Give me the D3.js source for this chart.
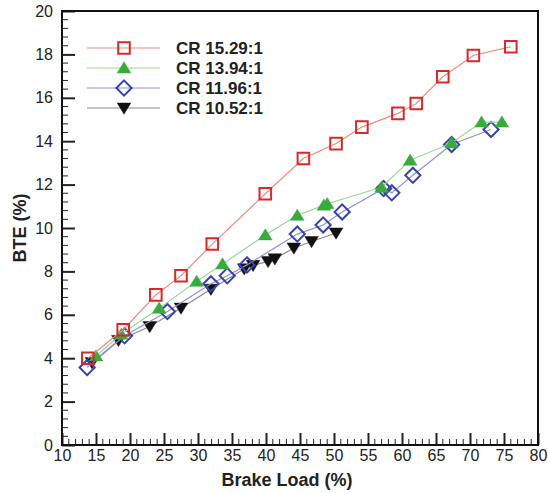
<!DOCTYPE html>
<html>
<head>
<meta charset="utf-8">
<script src="https://cdn.jsdelivr.net/npm/d3@7"></script>
<style>
  html, body { margin: 0; padding: 0; background: #fff; }
  svg text { font-family: "Liberation Sans", Arial, Helvetica, sans-serif; fill: #222; }
  .tick-label { font-size: 16px; }
  .title { font-size: 18px; font-weight: bold; }
  .legend-text { font-size: 17px; font-weight: bold; }
</style>
</head>
<body>
<svg id="chart" width="548" height="493"></svg>
<script>
// Brake load (%) and BTE (%) for each compression ratio.
const seriesNames = [ 'CR 15.29:1', 'CR 13.94:1', 'CR 11.96:1', 'CR 10.52:1' ];

const cr1529Load = [ 13.8, 19.0, 23.8, 27.5, 32.1, 39.9, 45.5, 50.3, 54.1, 59.4, 62.1, 66.0, 70.5, 76.0 ];
const cr1529Bte  = [ 4.00, 5.31, 6.92, 7.80, 9.26, 11.58, 13.20, 13.89, 14.65, 15.28, 15.74, 16.97, 17.95, 18.35 ];

const cr1394Load = [ 15.0, 18.7, 24.3, 29.8, 33.6, 39.9, 44.6, 48.5, 49.0, 57.0, 61.2, 67.3, 71.7, 74.7 ];
const cr1394Bte  = [ 4.10, 5.10, 6.30, 7.54, 8.34, 9.68, 10.58, 11.05, 11.12, 11.88, 13.12, 13.92, 14.88, 14.88 ];

const cr1196Load = [ 13.7, 19.2, 25.5, 31.9, 34.3, 37.2, 44.6, 48.4, 51.2, 57.3, 58.5, 61.6, 67.3, 73.1 ];
const cr1196Bte  = [ 3.57, 5.03, 6.15, 7.43, 7.80, 8.30, 9.72, 10.14, 10.74, 11.82, 11.62, 12.43, 13.85, 14.54 ];

const cr1052Load = [ 14.4, 18.3, 22.9, 27.5, 31.9, 36.8, 38.1, 40.3, 41.3, 44.1, 46.7, 50.3 ];
const cr1052Bte  = [ 3.80, 4.82, 5.46, 6.31, 7.18, 8.12, 8.28, 8.46, 8.58, 9.08, 9.38, 9.77 ];

const xTicks = [ 10, 15, 20, 25, 30, 35, 40, 45, 50, 55, 60, 65, 70, 75, 80 ];
const yTicks = [ 0, 2, 4, 6, 8, 10, 12, 14, 16, 18, 20 ];

// Marker shapes, all centred on 0,0.
const shapes = {
  square  : r => `M${-r},${-r}H${r}V${r}H${-r}Z`,
  triUp   : r => `M0,${-r}L${r * 1.1},${r * 0.8}L${-r * 1.1},${r * 0.8}Z`,
  diamond : r => `M0,${-r}L${r},0L0,${r}L${-r},0Z`,
  triDown : r => `M0,${r}L${r * 1.1},${-r * 0.8}L${-r * 1.1},${-r * 0.8}Z`
};

const styles = [
  { shape: 'square' , r: 5.8, line: '#ec8a86', stroke: '#d42a2a', fill: 'none'    , sw: 2   },
  { shape: 'triUp'  , r: 6.2, line: '#9fd49b', stroke: '#3aaa3c', fill: '#3aaa3c' , sw: 0.5 },
  { shape: 'diamond', r: 7.6, line: '#8f92d4', stroke: '#3b43a3', fill: 'none'    , sw: 2   },
  { shape: 'triDown', r: 6.2, line: '#8a8a8a', stroke: '#111'   , fill: '#111'    , sw: 0.5 }
];

class ChartBuilder {

  constructor ( ) {
    this.margin = { top: 11, left: 62 };
    this.innerW = 538 - 62;
    this.innerH = 445 - 11;
    const loads = [ cr1529Load, cr1394Load, cr1196Load, cr1052Load ];
    const btes  = [ cr1529Bte , cr1394Bte , cr1196Bte , cr1052Bte  ];
    this.series = seriesNames.map( ( name, i ) => ( {
      name,
      style : styles[i],
      points: loads[i].map( ( x, j ) => ( { x, y: btes[i][j] } ) )
    } ) );
  }

  makeCanvas ( ) {
    this.svg = d3.select( '#chart' );
    this.canvas = this.svg.append( 'g' )
      .attr( 'transform', `translate(${this.margin.left},${this.margin.top})` );
    return this;
  }

  setScales ( ) {
    this.x = d3.scaleLinear( ).domain( [ 10, 80 ] ).range( [ 0, this.innerW ] );
    this.y = d3.scaleLinear( ).domain( [ 0, 20 ] ).range( [ this.innerH, 0 ] );
    return this;
  }

  drawAxes ( ) {
    const c = this.canvas;
    // minor ticks, pointing inward
    c.append( 'g' ).selectAll( 'line' )
      .data( d3.range( 10, 80, 1 ).filter( v => v % 5 ) )
      .enter( ).append( 'line' )
        .attr( 'x1', d => this.x( d ) ).attr( 'x2', d => this.x( d ) )
        .attr( 'y1', this.innerH ).attr( 'y2', this.innerH - 6 )
        .attr( 'stroke', '#222' ).attr( 'stroke-width', 1 );
    c.append( 'g' ).selectAll( 'line' )
      .data( d3.range( 0, 20, 0.4 ).filter( v => Math.abs( v / 2 - Math.round( v / 2 ) ) > 0.01 ) )
      .enter( ).append( 'line' )
        .attr( 'y1', d => this.y( d ) ).attr( 'y2', d => this.y( d ) )
        .attr( 'x1', 0 ).attr( 'x2', 6 )
        .attr( 'stroke', '#222' ).attr( 'stroke-width', 1 );

    const xAxis = d3.axisBottom( this.x ).tickValues( xTicks ).tickSize( -12 ).tickPadding( 5 );
    const yAxis = d3.axisLeft( this.y ).tickValues( yTicks ).tickSize( -13 ).tickPadding( 9 );
    const xg = c.append( 'g' ).attr( 'transform', `translate(0,${this.innerH})` ).call( xAxis );
    const yg = c.append( 'g' ).call( yAxis );
    [ xg, yg ].forEach( g => {
      g.select( '.domain' ).remove( );
      g.selectAll( '.tick line' ).attr( 'stroke', '#222' ).attr( 'stroke-width', 2 );
      g.selectAll( '.tick text' ).attr( 'class', 'tick-label' ).attr( 'font-family', null ).attr( 'font-size', null );
    } );
    // frame
    c.append( 'rect' )
      .attr( 'width', this.innerW ).attr( 'height', this.innerH )
      .attr( 'fill', 'none' ).attr( 'stroke', '#111' ).attr( 'stroke-width', 2 );
    return this;
  }

  drawLabels ( ) {
    this.svg.append( 'text' )
      .attr( 'class', 'title' )
      .attr( 'x', 287 ).attr( 'y', 486 )
      .attr( 'text-anchor', 'middle' )
      .text( 'Brake Load (%)' );
    this.svg.append( 'text' )
      .attr( 'class', 'title' )
      .attr( 'transform', 'translate(26,228) rotate(-90)' )
      .attr( 'text-anchor', 'middle' )
      .text( 'BTE (%)' );
    return this;
  }

  drawSeries ( ) {
    const line = d3.line( ).x( d => this.x( d.x ) ).y( d => this.y( d.y ) );
    const groups = this.canvas.selectAll( '.series' )
      .data( this.series.slice( ).reverse( ) )
      .enter( ).append( 'g' ).attr( 'class', 'series' );
    groups.append( 'path' )
      .attr( 'd', d => line( d.points ) )
      .attr( 'fill', 'none' )
      .attr( 'stroke', d => d.style.line )
      .attr( 'stroke-width', 1.2 );
    groups.each( function ( s ) {
      d3.select( this ).selectAll( '.marker' )
        .data( s.points )
        .enter( ).append( 'path' )
          .attr( 'class', 'marker' )
          .attr( 'transform', d => `translate(${chart.x( d.x )},${chart.y( d.y )})` )
          .attr( 'd', shapes[s.style.shape]( s.style.r ) )
          .attr( 'fill', s.style.fill )
          .attr( 'stroke', s.style.stroke )
          .attr( 'stroke-width', s.style.sw );
    } );
    return this;
  }

  setLegend ( ) {
    const legend = this.svg.append( 'g' ).attr( 'id', 'legend' );
    const rows = legend.selectAll( 'g' )
      .data( this.series )
      .enter( ).append( 'g' )
        .attr( 'transform', ( d, i ) => `translate(0,${48 + i * 20})` );
    rows.append( 'line' )
      .attr( 'x1', 87 ).attr( 'x2', 160 )
      .attr( 'stroke', d => d.style.line ).attr( 'stroke-width', 1.2 );
    rows.append( 'path' )
      .attr( 'transform', 'translate(124,0)' )
      .attr( 'd', d => shapes[d.style.shape]( d.style.r ) )
      .attr( 'fill', d => d.style.fill )
      .attr( 'stroke', d => d.style.stroke )
      .attr( 'stroke-width', d => d.style.sw );
    rows.append( 'text' )
      .attr( 'class', 'legend-text' )
      .attr( 'x', 176 ).attr( 'y', 6 )
      .text( d => d.name );
    return this;
  }
}

const chart = new ChartBuilder( );
chart.makeCanvas( ).setScales( ).drawAxes( ).drawLabels( ).drawSeries( ).setLegend( );
</script>
</body>
</html>
